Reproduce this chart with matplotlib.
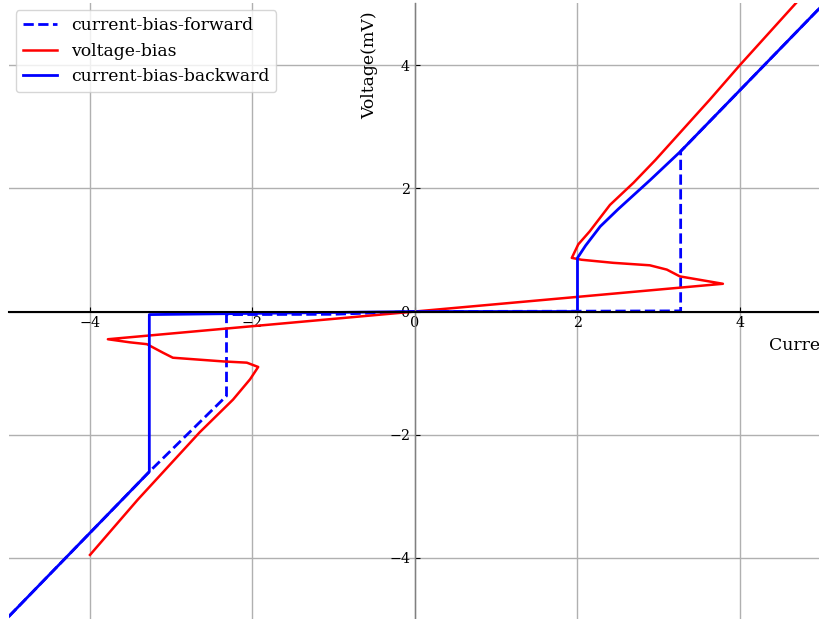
"""
IV curve plotter

Current-bias (forward/backward) and voltage-bias sweeps
"""
import matplotlib
matplotlib.use("Agg")
import matplotlib.pyplot as plt

COLOR_I = "blue"
COLOR_V = "red"

# current-bias, sweep up (mA, mV)
fwd_i = [-5.0, -3.27, -2.32, -2.32, -1.0, 0.0, 2.0, 3.27, 3.27, 5.0]
fwd_v = [-4.95, -2.6, -1.37, -0.05, -0.045, 0.0, 0.005, 0.01, 2.6, 4.95]

# current-bias, sweep down
bwd_i = [5.0, 3.27, 2.9, 2.5, 2.28, 2.1, 2.0, 2.0, 0.0, -3.27, -3.27, -5.0]
bwd_v = [4.95, 2.6, 2.14, 1.66, 1.38, 1.07, 0.87, 0.0, 0.0, -0.05, -2.6, -4.95]

# voltage-bias
vb_i = [-4.0, -3.41, -2.65, -2.24, -2.03, -1.93, -2.07, -2.36, -2.98, -3.10,
		-3.30, -3.51, -3.78, 0.0, 3.79, 3.26, 3.10, 2.89, 2.44, 2.05, 1.93,
		2.01, 2.15, 2.40, 2.69, 2.96, 3.63, 4.0, 4.72]
vb_v = [-3.95, -3.05, -1.96, -1.43, -1.10, -0.90, -0.83, -0.81, -0.75, -0.67,
		-0.53, -0.50, -0.45, 0.0, 0.45, 0.57, 0.68, 0.75, 0.79, 0.84, 0.87,
		1.09, 1.30, 1.73, 2.09, 2.46, 3.44, 4.0, 5.05]

ticks = [-4, -2, 0, 2, 4]


def plot_iv():
	plt.rcParams["font.family"] = "DejaVu Serif"
	fig = plt.figure(figsize=(8.19, 6.19), dpi=100)
	ax = fig.add_axes([0.0107, -0.001, 0.992, 0.9955])
	
	ax.plot(fwd_i, fwd_v, "--", color=COLOR_I, lw=2, label="current-bias-forward")
	ax.plot(vb_i, vb_v, "-", color=COLOR_V, lw=1.8, label="voltage-bias")
	ax.plot(bwd_i, bwd_v, "-", color=COLOR_I, lw=2, label="current-bias-backward")
	
	ax.set_xlim(-5, 5)
	ax.set_ylim(-5, 5)
	ax.set_xticks(ticks)
	ax.set_yticks(ticks)
	ax.grid(True, color="#b0b0b0", lw=1)
	ax.set_axisbelow(True)
	
	# axes through the origin
	ax.spines["left"].set_position(("data", 0))
	ax.spines["bottom"].set_position(("data", 0))
	ax.spines["right"].set_visible(False)
	ax.spines["top"].set_visible(False)
	ax.spines["left"].set_color("#808080")
	ax.spines["left"].set_linewidth(1)
	ax.spines["bottom"].set_linewidth(1.5)
	ax.tick_params(direction="in", labelsize=10.3)
	
	ax.set_xlabel("Current(mA)", fontsize=12.4, ha="left", va="center")
	ax.xaxis.set_label_coords(0.9357, 0.444)
	ax.set_ylabel("Voltage(mV)", fontsize=12.4, ha="center", va="center")
	ax.yaxis.set_label_coords(0.4446, 0.9)
	
	ax.legend(loc="upper left", fontsize=12.4, borderaxespad=0.4)
	return fig


if __name__ == "__main__":
	fig = plot_iv()
	fig.savefig("out.png", dpi=100)
